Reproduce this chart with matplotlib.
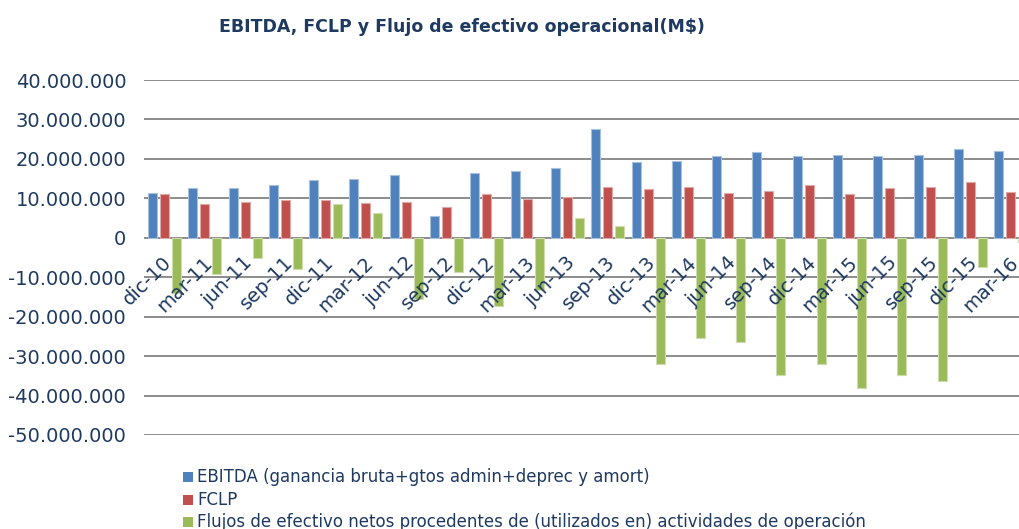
import matplotlib
matplotlib.use("Agg")
import matplotlib.pyplot as plt
import matplotlib.transforms as mtransforms
from matplotlib.patches import Rectangle
from matplotlib.ticker import FuncFormatter, MultipleLocator
import numpy as np

categories = ["dic-10", "mar-11", "jun-11", "sep-11", "dic-11", "mar-12", "jun-12",
              "sep-12", "dic-12", "mar-13", "jun-13", "sep-13", "dic-13", "mar-14",
              "jun-14", "sep-14", "dic-14", "mar-15", "jun-15", "sep-15", "dic-15",
              "mar-16"]

ebitda = [11.4, 12.5, 12.7, 13.5, 14.7, 14.9, 15.9, 5.6, 16.5, 16.9, 17.8,
          27.6, 19.3, 19.5, 20.7, 21.7, 20.8, 21.0, 20.8, 21.0, 22.5, 22.1]
fclp = [11.2, 8.5, 9.1, 9.6, 9.6, 8.9, 9.1, 7.8, 11.1, 9.8, 10.3,
        13.0, 12.3, 12.8, 11.4, 11.8, 13.4, 11.1, 12.7, 12.8, 14.2, 11.5]
flujos = [-14.1, -9.3, -5.0, -7.9, 8.5, 6.2, -15.6, -8.6, -17.3, -13.3, 5.0,
          3.0, -32.0, -25.5, -26.4, -34.7, -32.1, -38.2, -34.7, -36.3, -7.5, -1.0]

series_names = ["EBITDA (ganancia bruta+gtos admin+deprec y amort)",
                "FCLP",
                "Flujos de efectivo netos procedentes de (utilizados en) actividades de operación"]
colors = ["#4F81BD", "#C0504D", "#9BBB59"]
edges = ["#A7C0DE", "#E0A8A6", "#CDDDAC"]
text_color = "#1F3A60"

W, H = 1019, 529
fig = plt.figure(figsize=(W / 100, H / 100), dpi=100)
fig.patch.set_facecolor("white")

ax_left, ax_right = 144.3, 144.3 + 40.3 * len(categories)
ax_top, ax_bottom = 80, 435
ax = fig.add_axes([ax_left / W, 1 - ax_bottom / H, (ax_right - ax_left) / W, (ax_bottom - ax_top) / H])

x = np.arange(len(categories))
scale = 1e6
step = 0.298
bw = 0.223
for k, (vals, c, e) in enumerate(zip([ebitda, fclp, flujos], colors, edges)):
    ax.bar(x + (k - 1) * step, np.array(vals) * scale, width=bw, color=c,
           edgecolor=e, linewidth=0.8, zorder=3)

ax.set_xlim(-0.5, len(categories) - 0.5)
ax.set_ylim(-50e6, 40e6)
ax.yaxis.set_major_locator(MultipleLocator(10e6))
ax.yaxis.set_major_formatter(FuncFormatter(lambda v, p: f"{v:,.0f}".replace(",", ".")))
ax.grid(axis="y", color="#8C8C8C", linewidth=1.4, zorder=0)
ax.set_axisbelow(True)
for s in ax.spines.values():
    s.set_visible(False)
ax.tick_params(axis="y", length=0, pad=13, labelsize=14, labelcolor=text_color)
ax.tick_params(axis="x", length=0, labelbottom=False)

offset = mtransforms.ScaledTranslation(-2 / 100, -15 / 100, fig.dpi_scale_trans)
for i, lab in enumerate(categories):
    ax.text(i, 0, lab, transform=ax.transData + offset, rotation=45,
            rotation_mode="anchor", ha="right", va="top", fontsize=14,
            color=text_color, zorder=5)

fig.text(461.5 / W, 1 - 32 / H, "EBITDA, FCLP y Flujo de efectivo operacional(M$)",
         ha="center", va="baseline", fontsize=12.5, fontweight="bold", color=text_color)

rows_y = [477, 500, 522]
for name, c, yy in zip(series_names, colors, rows_y):
    fig.add_artist(Rectangle((183 / W, 1 - (yy + 5) / H), 10 / W, 10 / H,
                             transform=fig.transFigure, facecolor=c, edgecolor="none"))
    fig.text(197 / W, 1 - yy / H, name, ha="left", va="center", fontsize=12,
             color=text_color)

fig.savefig("out.png", dpi=100)
